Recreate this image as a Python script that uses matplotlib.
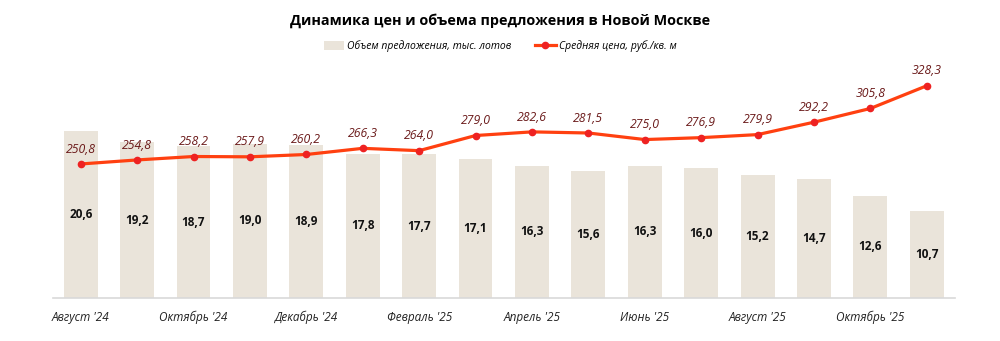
import numpy as np
import matplotlib.pyplot as plt
from matplotlib.lines import Line2D
from matplotlib.patches import Patch

plt.rcParams['font.family'] = ['Open Sans', 'DejaVu Sans']

months = ["Август '24", "Сентябрь '24", "Октябрь '24", "Ноябрь '24", "Декабрь '24",
          "Январь '25", "Февраль '25", "Март '25", "Апрель '25", "Май '25",
          "Июнь '25", "Июль '25", "Август '25", "Сентябрь '25", "Октябрь '25",
          "Ноябрь '25"]
supply = [20.6, 19.2, 18.7, 19.0, 18.9, 17.8, 17.7, 17.1,
          16.3, 15.6, 16.3, 16.0, 15.2, 14.7, 12.6, 10.7]
price = [250.8, 254.8, 258.2, 257.9, 260.2, 266.3, 264.0, 279.0,
         282.6, 281.5, 275.0, 276.9, 279.9, 292.2, 305.8, 328.3]

bar_col = '#EAE4DA'
line_col = '#FF4010'
dot_col = '#EE2222'
lab_col = '#6B1A1A'

def fmt(v):
    return f'{v:.1f}'.replace('.', ',')

fig = plt.figure(figsize=(10, 3.41), dpi=100)
ax1 = fig.add_axes([0.0525, 0.126, 0.9025, 0.669])
x = np.arange(len(months))

# объем предложения - столбцы
ax1.bar(x, supply, width=0.6, color=bar_col, zorder=1)
for xi, v in zip(x, supply):
    ax1.text(xi, v / 2, fmt(v), ha='center', va='center', fontsize=8.5,
             fontweight='bold', color='#111111')
ax1.set_xlim(-0.5, len(months) - 0.5)
ax1.set_ylim(0, 28.1)
ax1.set_yticks([])
for s in ['top', 'right', 'left']:
    ax1.spines[s].set_visible(False)
ax1.spines['bottom'].set_color('#D9D9D9')
ax1.spines['bottom'].set_linewidth(1.2)
ax1.set_xticks(x[::2])
ax1.set_xticklabels(months[::2], fontsize=8.5, style='italic', color='#222222')
ax1.tick_params(axis='x', length=0, pad=9)

# средняя цена - линия на второй оси
ax2 = ax1.twinx()
ax2.plot(x, price, color=line_col, lw=2.3, marker='o', markersize=4.5,
         markerfacecolor=dot_col, markeredgecolor=dot_col, zorder=3)
for xi, v in zip(x, price):
    ax2.annotate(fmt(v), (xi, v), xytext=(0, 6), textcoords='offset points',
                 ha='center', va='bottom', fontsize=8.8, style='italic',
                 color=lab_col)
ax2.set_ylim(118, 344)
ax2.set_yticks([])
for s in ['top', 'right', 'left', 'bottom']:
    ax2.spines[s].set_visible(False)

fig.text(0.5, 0.94, 'Динамика цен и объема предложения в Новой Москве',
         ha='center', va='center', fontsize=10.4, fontweight='bold')

handles = [Patch(facecolor=bar_col, edgecolor='none'),
           Line2D([0], [0], color=line_col, lw=2.3, marker='o', markersize=4.5,
                  markerfacecolor=dot_col, markeredgecolor=dot_col)]
fig.legend(handles, ['Объем предложения, тыс. лотов', 'Средняя цена, руб./кв. м'],
           loc='center', bbox_to_anchor=(0.5, 0.865), ncol=2, frameon=False,
           prop={'size': 7.5, 'style': 'italic'}, handlelength=2.0,
           handleheight=0.9, columnspacing=2.2, handletextpad=0.3)

fig.savefig('out.png', dpi=100)
